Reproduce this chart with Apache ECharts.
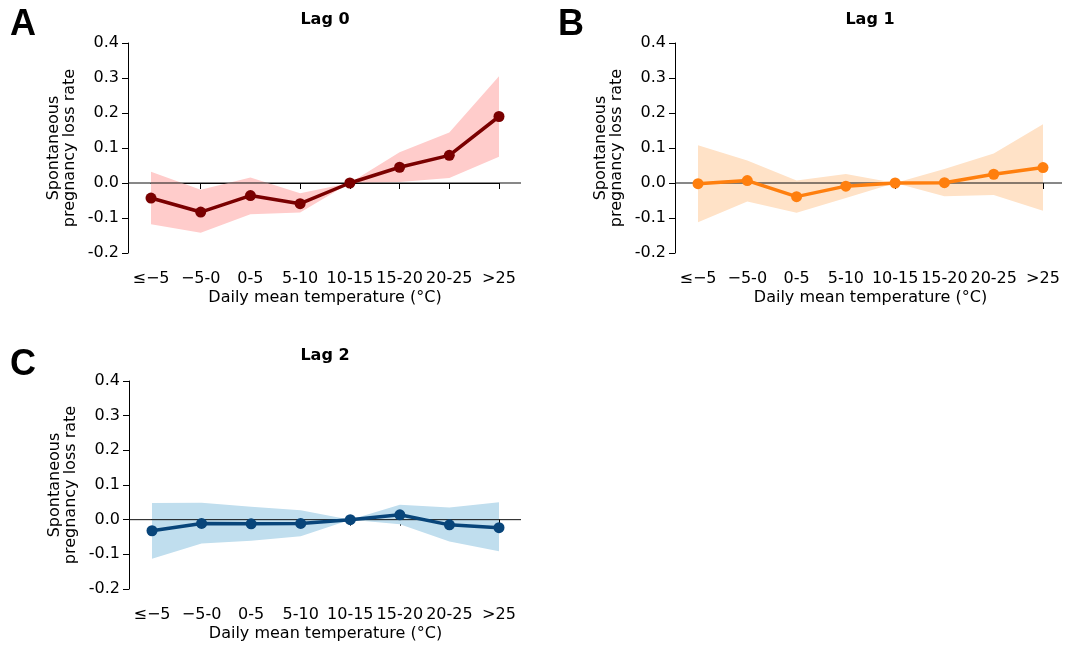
<!DOCTYPE html>
<html>
<head>
<meta charset="utf-8">
<script src="https://cdn.jsdelivr.net/npm/echarts@6/dist/echarts.min.js"></script>
<style>html,body{margin:0;padding:0;background:#fff}#c{width:1066px;height:649px}</style>
</head>
<body>
<div id="c"></div>
<script>
const categories = ['≤−5', '−5-0', '0-5', '5-10', '10-15', '15-20', '20-25', '>25'];
const yTicks = { min: -0.2, max: 0.4, interval: 0.1 };

const lag0Est   = [-0.043, -0.083, -0.036, -0.059, 0, 0.045, 0.079, 0.190];
const lag0Lower = [-0.118, -0.142, -0.089, -0.084, 0, 0.003, 0.014, 0.075];
const lag0Upper = [0.032, -0.019, 0.016, -0.029, 0, 0.088, 0.144, 0.305];

const lag1Est   = [-0.002, 0.007, -0.039, -0.009, 0, 0.001, 0.025, 0.044];
const lag1Lower = [-0.112, -0.053, -0.085, -0.043, 0, -0.038, -0.034, -0.079];
const lag1Upper = [0.108, 0.064, 0.007, 0.026, 0, 0.040, 0.084, 0.168];

const lag2Est   = [-0.032, -0.011, -0.012, -0.011, 0, 0.014, -0.015, -0.023];
const lag2Lower = [-0.113, -0.069, -0.061, -0.048, 0, -0.013, -0.063, -0.091];
const lag2Upper = [0.048, 0.049, 0.037, 0.027, 0, 0.043, 0.035, 0.050];

const panelTitles = ['Lag 0', 'Lag 1', 'Lag 2'];
const panelLetters = ['A', 'B', 'C'];
const xTitle = 'Daily mean temperature (°C)';
const yTitle = 'Spontaneous\npregnancy loss rate';

const FONT = 'DejaVu Sans';
const panels = [
  { est: lag0Est, lo: lag0Lower, hi: lag0Upper, line: '#7a0000', band: '#ffcccb',
    yAxisX: 128, left: 151, width: 348, top: 43, height: 210, zeroRight: 521,
    titleX: 325, titleY: 20, letterX: 10, letterY: 25 },
  { est: lag1Est, lo: lag1Lower, hi: lag1Upper, line: '#ff7f0e', band: '#ffe2c7',
    yAxisX: 675, left: 698, width: 345, top: 43, height: 210, zeroRight: 1062,
    titleX: 870, titleY: 20, letterX: 558, letterY: 25 },
  { est: lag2Est, lo: lag2Lower, hi: lag2Upper, line: '#08457a', band: '#c0deee',
    yAxisX: 129, left: 152, width: 347, top: 381, height: 208, zeroRight: 521,
    titleX: 325, titleY: 356, letterX: 10, letterY: 365 }
];

const option = { animation: false, grid: [], xAxis: [], yAxis: [], series: [], graphic: [] };

panels.forEach((p, i) => {
  const gMain = option.grid.length;
  option.grid.push({ left: p.left, top: p.top, width: p.width, height: p.height });
  option.grid.push({ left: p.yAxisX, top: p.top, width: p.zeroRight - p.yAxisX, height: p.height });
  const gZero = gMain + 1;

  option.xAxis.push({
    type: 'category', gridIndex: gMain, data: categories, boundaryGap: false, offset: 10,
    axisLine: { show: true, lineStyle: { color: '#000', width: 1 } },
    axisTick: { show: true, length: 6, interval: 0, lineStyle: { color: '#000' } },
    axisLabel: { color: '#000', fontFamily: FONT, fontSize: 16, margin: 8, interval: 0, hideOverlap: false },
    splitLine: { show: false },
    name: xTitle, nameLocation: 'middle', nameGap: 27,
    nameTextStyle: { color: '#000', fontFamily: FONT, fontSize: 16 }
  });
  option.yAxis.push({
    type: 'value', gridIndex: gMain, min: yTicks.min, max: yTicks.max, interval: yTicks.interval,
    offset: p.left - p.yAxisX,
    axisLine: { show: true, lineStyle: { color: '#000', width: 1 } },
    axisTick: { show: true, length: 6, lineStyle: { color: '#000' } },
    axisLabel: { color: '#000', fontFamily: FONT, fontSize: 16, margin: 9,
      formatter: v => v.toFixed(1) },
    splitLine: { show: false },
    name: yTitle, nameLocation: 'middle', nameRotate: 90, nameGap: 50,
    nameTextStyle: { color: '#000', fontFamily: FONT, fontSize: 16, lineHeight: 16, align: 'center' }
  });
  const xMain = option.xAxis.length - 1, yMain = option.yAxis.length - 1;

  option.xAxis.push({ type: 'value', gridIndex: gZero, min: 0, max: 1, show: false });
  option.yAxis.push({ type: 'value', gridIndex: gZero, min: yTicks.min, max: yTicks.max, show: false });
  const xZero = option.xAxis.length - 1, yZero = option.yAxis.length - 1;

  const bandData = categories.map((c, k) => [k, p.lo[k], p.hi[k]]);
  option.series.push({
    type: 'custom', xAxisIndex: xMain, yAxisIndex: yMain, z: 1, silent: true,
    data: bandData,
    renderItem: (params, api) => {
      if (params.dataIndex !== 0) return null;
      const up = bandData.map(d => api.coord([d[0], d[2]]));
      const dn = bandData.slice().reverse().map(d => api.coord([d[0], d[1]]));
      return { type: 'polygon', shape: { points: up.concat(dn) }, style: { fill: p.band } };
    }
  });
  option.series.push({
    type: 'line', xAxisIndex: xZero, yAxisIndex: yZero, z: 2, silent: true,
    data: [[0, 0], [1, 0]], symbol: 'none',
    lineStyle: { color: '#111', width: 1 }
  });
  option.series.push({
    type: 'line', xAxisIndex: xMain, yAxisIndex: yMain, z: 3,
    data: p.est, symbol: 'circle', symbolSize: 11,
    lineStyle: { color: p.line, width: 3.5 }, itemStyle: { color: p.line }
  });

  option.graphic.push({
    type: 'text', x: p.titleX, y: p.titleY,
    style: { text: panelTitles[i], fill: '#000', font: 'bold 16px "' + FONT + '"',
      textAlign: 'center', textVerticalAlign: 'middle' }
  });
  option.graphic.push({
    type: 'text', x: p.letterX, y: p.letterY,
    style: { text: panelLetters[i], fill: '#000', font: 'bold 36px "Liberation Sans"',
      textAlign: 'left', textVerticalAlign: 'middle' }
  });
});

const chart = echarts.init(document.getElementById('c'), null, { renderer: 'canvas' });
chart.setOption(option);
</script>
</body>
</html>
